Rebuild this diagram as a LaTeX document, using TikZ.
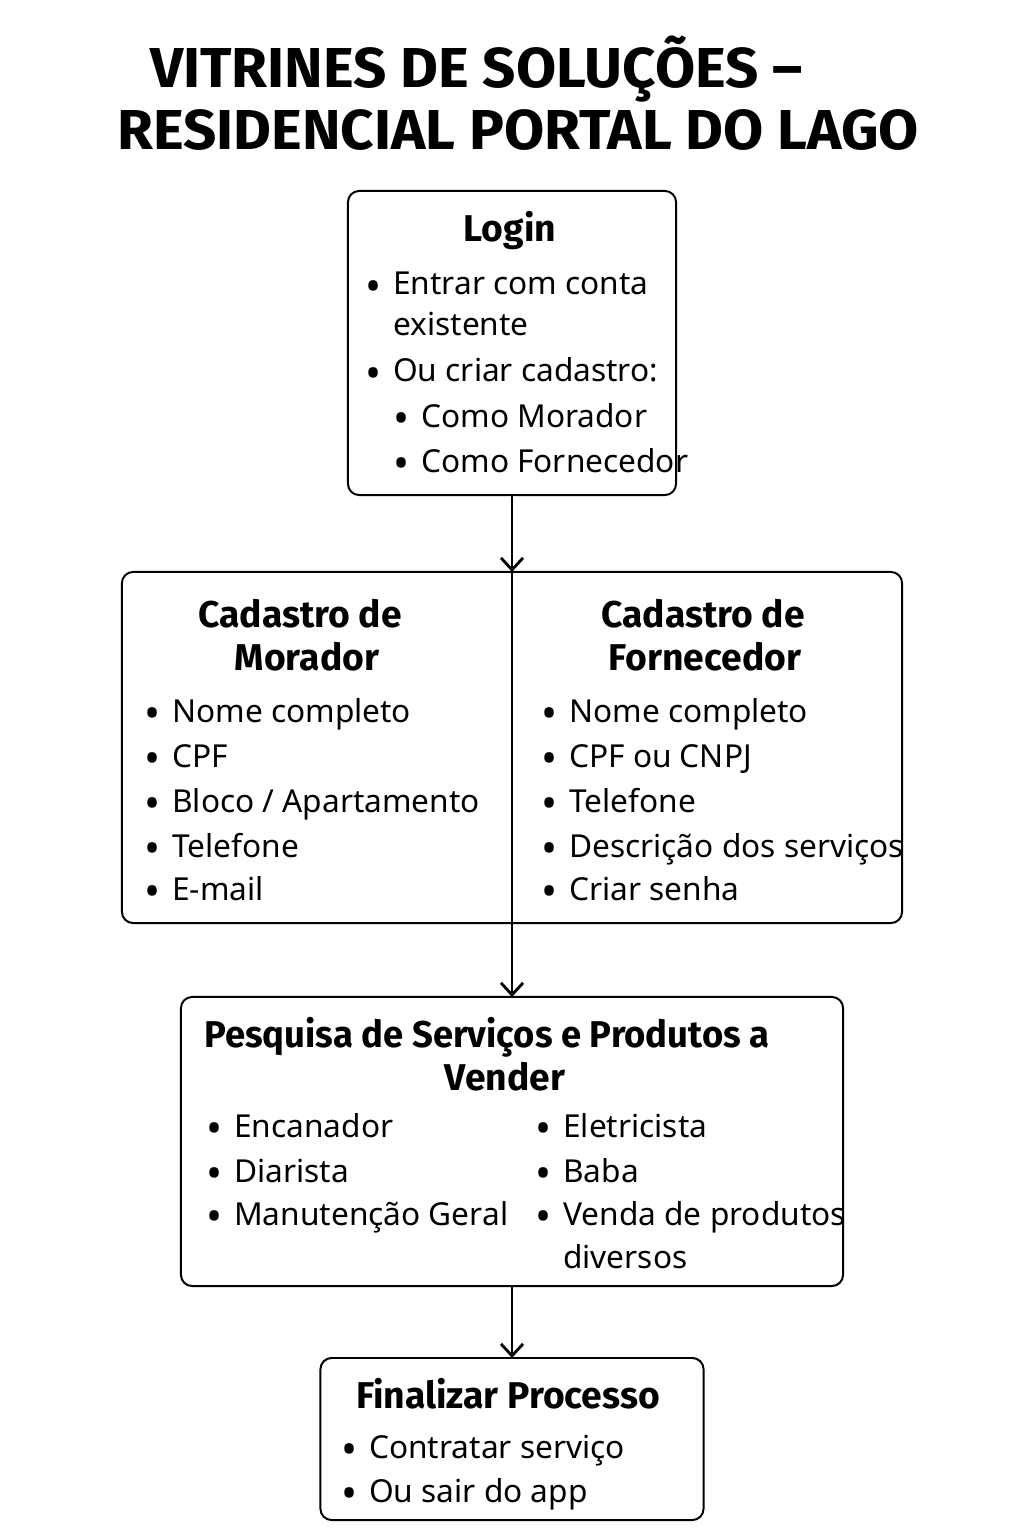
\documentclass[tikz,border=0pt]{standalone}
\usepackage{fontspec}
\usepackage{graphicx}
\setmainfont{Noto Sans}
\newfontfamily\negrito{Fira Sans}
\usetikzlibrary{arrows.meta}

\newcommand{\marca}{\makebox[0pt][r]{\raisebox{-0.2em}{\scalebox{1.35}{\textbullet}}\hspace{0.30cm}}}

\tikzset{
  caixa/.style={draw, line width=1.4pt, rounded corners=0.28cm, inner sep=0pt, outer sep=0pt},
  titulo/.style={font=\fontsize{40}{46}\negrito\bfseries, anchor=base west, inner sep=0pt},
  cabeca/.style={font=\fontsize{26.5}{31}\negrito\bfseries, anchor=base, inner sep=0pt},
  topico/.style={font=\fontsize{22.5}{27}\selectfont, anchor=base west, inner sep=0pt},
  seta/.style={line width=1.3pt, -{Straight Barb[length=0.3cm, width=0.55cm, line width=2pt]}}
}

\begin{document}
\begin{tikzpicture}[x=0.025cm, y=-0.025cm]
    \useasboundingbox (0,0) rectangle (1024,1536);

    % Title
    \node[titulo] (tit1) at (150,88) {\scalebox{1.035}[1]{VITRINES DE SOLUÇÕES –}};
    \node[titulo] (tit2) at (117,150) {\scalebox{1.035}[1]{RESIDENCIAL PORTAL DO LAGO}};

    % Boxes
    \node[caixa, minimum width=8.2cm, minimum height=7.6cm] (login) at (512,343) {};
    \node[caixa, minimum width=19.5cm, minimum height=8.775cm] (cad) at (512,747.5) {};
    \node[caixa, minimum width=16.55cm, minimum height=7.225cm] (pesq) at (512,1141.5) {};
    \node[caixa, minimum width=9.575cm, minimum height=4.05cm] (fim) at (512,1439) {};

    % Connectors
    \draw[seta] (login.south) -- (cad.north);
    \draw[seta] (cad.north) -- (pesq.north);
    \draw[seta] (pesq.south) -- (fim.north);

    % Login
    \node[cabeca] (login-h) at (510,242) {Login};
    \node[topico] (login1) at (393,295) {\marca Entrar com conta};
    \node[topico] (login2) at (393,335) {existente};
    \node[topico] (login3) at (393,382) {\marca Ou criar cadastro:};
    \node[topico] (login4) at (421,427) {\marca Como Morador};
    \node[topico] (login5) at (421,472) {\marca Como Fornecedor};

    % Cadastro de Morador
    \node[cabeca] (mor-h1) at (300,627) {Cadastro de};
    \node[cabeca] (mor-h2) at (307,670) {Morador};
    \foreach \y/\txt [count=\i] in {722/Nome completo, 767/CPF, 812/{Bloco / Apartamento}, 857/Telefone, 900/E-mail}
        \node[topico] (mor\i) at (172,\y) {\marca \txt};

    % Cadastro de Fornecedor
    \node[cabeca] (forn-h1) at (703,627) {Cadastro de};
    \node[cabeca] (forn-h2) at (705,670) {Fornecedor};
    \foreach \y/\txt [count=\i] in {722/Nome completo, 767/CPF ou CNPJ, 812/Telefone, 857/Descrição dos serviços, 900/Criar senha}
        \node[topico] (forn\i) at (569,\y) {\marca \txt};

    % Pesquisa
    \node[cabeca] (pesq-h1) at (487,1047) {\scalebox{0.978}[1]{Pesquisa de Serviços e Produtos a}};
    \node[cabeca] (pesq-h2) at (505,1090) {Vender};
    \foreach \y/\txt [count=\i] in {1137/Encanador, 1182/Diarista, 1225/Manutenção Geral}
        \node[topico] (pesqa\i) at (234,\y) {\marca \txt};
    \foreach \y/\txt [count=\i] in {1137/Eletricista, 1182/Baba, 1225/Venda de produtos}
        \node[topico] (pesqb\i) at (563,\y) {\marca \txt};
    \node[topico] (pesqb4) at (563,1268) {diversos};

    % Finalizar
    \node[cabeca] (fim-h) at (508,1408) {Finalizar Processo};
    \node[topico] (fim1) at (369,1458) {\marca Contratar serviço};
    \node[topico] (fim2) at (369,1502) {\marca Ou sair do app};
\end{tikzpicture}
\end{document}
